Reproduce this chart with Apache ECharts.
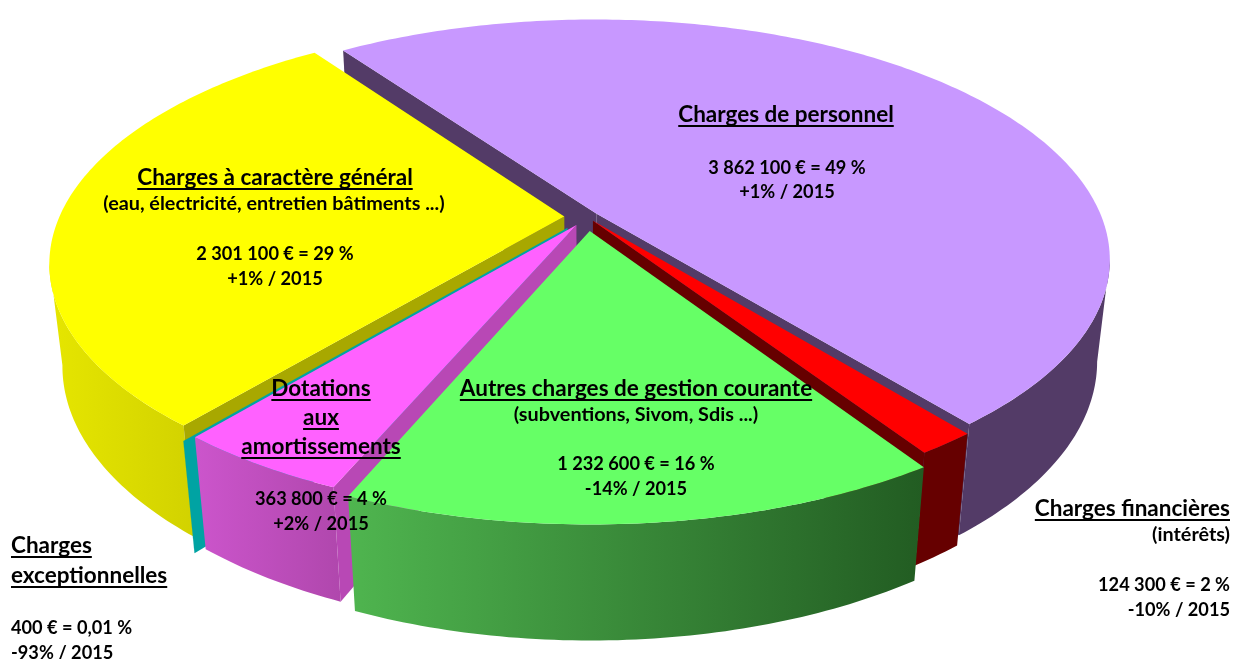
<!DOCTYPE html>
<html><head><meta charset="utf-8">
<style>html,body{margin:0;padding:0;background:#fff}#c{width:1235px;height:659px}</style>
<script src="https://cdn.jsdelivr.net/npm/echarts@6/dist/echarts.min.js"></script>
</head><body><div id="c"></div>
<script>
// Data, clockwise from the back-left edge of the pie
const categories = ['Charges de personnel','Charges financières','Autres charges de gestion courante','Dotations aux amortissements','Charges exceptionnelles','Charges à caractère général'];
const amounts = [3862100, 124300, 1232600, 363800, 400, 2301100];
const explode = [0.024, 0.02, 0.06, 0.04, 0.06, 0.045];
const paintOrder = [1, 4, 6, 5, 3, 2];
const topColors = ['#c898ff','#ff0000','#66ff66','#ff61ff','#00a6a6','#ffff00'];
const cutColors = ['#533b67','#660000','#3a8f3a','#b848b5','#00a3a3','#a8a800'];
const wallLeft  = ['#533b67','#660000','#4fb54f','#cc55cc','#00a3a3','#e6e600'];
const wallRight = ['#533b67','#660000','#225c22','#b047ad','#00a3a3','#d2d200'];

// Text blocks: [text, x, y, align, size, underlined]
const labels = [
 ['Charges de personnel',786,115,'center',22.5,1],
 ['3 862 100 € = 49 %',787,168,'center',18.2,0],
 ['+1% / 2015',787,192,'center',18.2,0],
 ['Charges à caractère général',275,178,'center',22.5,1],
 ['(eau, électricité, entretien bâtiments ...)',274,204,'center',19.8,0],
 ['2 301 100 € = 29 %',275,254,'center',18.2,0],
 ['+1% / 2015',275,279,'center',18.2,0],
 ['Dotations',321,389,'center',22.5,1],
 ['aux',321,418,'center',22.5,1],
 ['amortissements',321,447,'center',22.5,1],
 ['363 800 € = 4 %',321,499,'center',18.2,0],
 ['+2% / 2015',321,524,'center',18.2,0],
 ['Autres charges de gestion courante',636,389,'center',22.5,1],
 ['(subventions, Sivom, Sdis ...)',636,415,'center',19.8,0],
 ['1 232 600 € = 16 %',636,464,'center',18.2,0],
 ['-14% / 2015',636,489,'center',18.2,0],
 ['Charges financières',1230,509,'right',22.5,1],
 ['(intérêts)',1230,535,'right',19.8,0],
 ['124 300 € = 2 %',1230,585,'right',18.2,0],
 ['-10% / 2015',1230,610,'right',18.2,0],
 ['Charges',11,546,'left',22.5,1],
 ['exceptionnelles',11,576,'left',22.5,1],
 ['400 € = 0,01 %',11,628,'left',18.2,0],
 ['-93% / 2015',11,653,'left',18.2,0]
];

const FONT = 'Lato';
const cx = 587, cy = 217, A = 505, B = 232, P = 0.189, Q = 0.024, DEPTH = 103;
const START = 234.7 * Math.PI / 180;
const total = amounts.reduce((a, b) => a + b, 0);
const rad = a => a * 2 * Math.PI / total;
const starts = []; amounts.reduce((acc, v, i) => { starts[i] = acc; return acc + rad(v); }, START);

function project(u, v, z) {
  const s = 1 / (1 - P * v + Q * z);
  return [cx + A * u * s, cy + B * v * s + DEPTH * z * s];
}
function arc(t0, t1, e, m, z) {
  const n = Math.max(1, Math.ceil(Math.abs(t1 - t0) / 0.015)), out = [];
  for (let i = 0; i <= n; i++) {
    const t = t0 + (t1 - t0) * i / n;
    out.push(project(e * Math.cos(m) + Math.cos(t), e * Math.sin(m) + Math.sin(t), z));
  }
  return out;
}
const limit = Math.asin(P);
function renderItem(params, api) {
  const i = params.dataIndex, val = api.value(0);
  const t0 = starts[i], t1 = t0 + rad(val), m = (t0 + t1) / 2, e = explode[i];
  const apex = z => project(e * Math.cos(m), e * Math.sin(m), z);
  const base = paintOrder[i] * 10, children = [];
  const poly = (points, fill, k) => children.push({ type: 'polygon', z2: base + k, shape: { points }, style: { fill, stroke: null } });
  // outer wall: only the part of the rim that faces the viewer
  const twoPi = 2 * Math.PI, ranges = [];
  [0, twoPi].forEach(o => {
    const a = Math.max(t0, limit + o), b = Math.min(t1, Math.PI - limit + o);
    if (b > a) ranges.push([a, b]);
  });
  ranges.forEach(([a, b]) => {
    const top = arc(a, b, e, m, 0), bot = arc(a, b, e, m, 1).reverse();
    poly(top.concat(bot), new echarts.graphic.LinearGradient(0, 0, 1, 0, [
      { offset: 0, color: wallLeft[i] }, { offset: 1, color: wallRight[i] }]), 0);
  });
  // cut faces turned towards the viewer
  const cut = t => poly([apex(0), arc(t, t, e, m, 0)[0], arc(t, t, e, m, 1)[0], apex(1)], cutColors[i], 1);
  if (Math.cos(t0) < 0) cut(t0);
  if (Math.cos(t1) > 0) cut(t1);
  // top surface
  poly([apex(0)].concat(arc(t0, t1, e, m, 0)), topColors[i], 2);
  return { type: 'group', children };
}

const measure = document.createElement('canvas').getContext('2d');
const graphic = [];
labels.forEach(([text, x, y, align, size, under]) => {
  graphic.push({ type: 'text', z: 10, x, y, style: { text, fill: '#000', textAlign: align, textVerticalAlign: 'middle', font: 'bold ' + size + 'px ' + FONT } });
  if (under) {
    measure.font = 'bold ' + size + 'px ' + FONT;
    const w = measure.measureText(text).width;
    const left = align === 'center' ? x - w / 2 : align === 'right' ? x - w : x;
    graphic.push({ type: 'rect', z: 10, shape: { x: left, y: y + 10, width: w, height: 2 }, style: { fill: '#000' } });
  }
});

const chart = echarts.init(document.getElementById('c'), null, { renderer: 'canvas' });
chart.setOption({
  animation: false,
  backgroundColor: '#fff',
  graphic,
  series: [{ type: 'custom', coordinateSystem: 'none', silent: true, z: 1, renderItem,
    data: categories.map((name, i) => ({ name, value: [amounts[i]] })) }]
});
</script></body></html>
